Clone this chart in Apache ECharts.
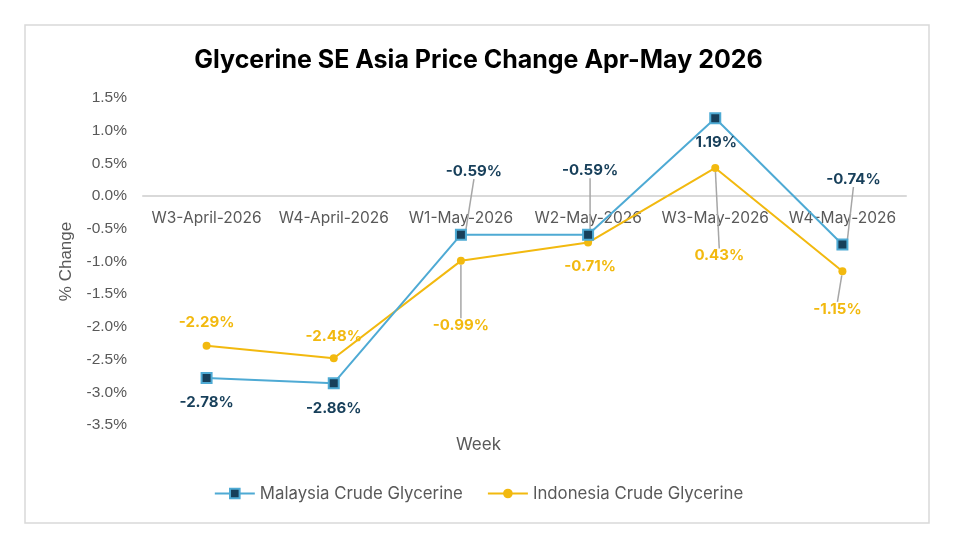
<!DOCTYPE html>
<html>
<head>
<meta charset="utf-8">
<script src="https://cdn.jsdelivr.net/npm/echarts@6/dist/echarts.min.js"></script>
<style>
  html, body { margin: 0; padding: 0; background: #fff; }
  #chart { width: 957px; height: 550px; }
</style>
</head>
<body>
<div id="chart"></div>
<script>
var weeks = ['W3-April-2026', 'W4-April-2026', 'W1-May-2026', 'W2-May-2026', 'W3-May-2026', 'W4-May-2026'];
var malaysia = [-2.78, -2.86, -0.59, -0.59, 1.19, -0.74];
var indonesia = [-2.29, -2.48, -0.99, -0.71, 0.43, -1.15];

// label nudges (px) relative to the point, and whether a leader line is drawn
var malaysiaShift = [[0, 25], [0, 25], [13, -63], [2, -64], [1, 24], [11, -65]];
var malaysiaLeader = [false, false, true, true, false, true];
var indonesiaShift = [[0, -23], [0, -22], [0, 65], [2, 24], [4, 88], [-5, 38]];
var indonesiaLeader = [false, false, true, false, true, true];

var chart = echarts.init(document.getElementById('chart'));
var fontMain = 'Inter, "Noto Sans", sans-serif';

function makeLayout(shift) {
	return function(params) {
		var s = shift[params.dataIndex];
		return { dx: s[0], dy: s[1] };
	};
}

function makeData(values, leader) {
	return values.map(function(v, i) {
		return { value: v, labelLine: { show: leader[i] } };
	});
}

var option = {
	backgroundColor: '#fff',
	animation: false,
	title: [
		{
			text: 'Glycerine SE Asia Price Change Apr-May 2026',
			left: 'center',
			top: 43,
			textStyle: { fontFamily: fontMain, fontSize: 25, fontWeight: 'bold', color: '#000' }
		},
		{
			text: 'Week',
			left: 'center',
			top: 431,
			textStyle: { fontFamily: fontMain, fontSize: 17, fontWeight: 'normal', color: '#595959' }
		}
	],
	graphic: [{
		type: 'rect',
		shape: { x: 25, y: 25, width: 904, height: 498 },
		style: { fill: 'none', stroke: '#d9d9d9', lineWidth: 1.5 },
		silent: true
	}],
	grid: { left: 143, right: 51, top: 98, height: 327, containLabel: false },
	legend: {
		bottom: 43,
		left: 'center',
		itemGap: 24,
		itemWidth: 40,
		itemHeight: 12,
		textStyle: { fontFamily: fontMain, fontSize: 16.8, color: '#595959' },
		data: ['Malaysia Crude Glycerine', 'Indonesia Crude Glycerine']
	},
	xAxis: {
		type: 'category',
		data: weeks,
		boundaryGap: true,
		offset: -229,
		axisLine: { onZero: false, lineStyle: { color: '#d9d9d9', width: 2 } },
		axisTick: { show: false },
		axisLabel: { fontFamily: fontMain, fontSize: 15.5, color: '#595959', margin: 14, interval: 0 }
	},
	yAxis: {
		type: 'value',
		min: -3.5,
		max: 1.5,
		interval: 0.5,
		name: '% Change',
		nameLocation: 'middle',
		nameGap: 68,
		nameTextStyle: { fontFamily: '"Liberation Sans", Arial, sans-serif', fontSize: 17, color: '#595959' },
		splitLine: { show: false },
		axisLine: { show: false },
		axisTick: { show: false },
		axisLabel: {
			fontFamily: '"Liberation Sans", Arial, sans-serif',
			fontSize: 15.5,
			color: '#595959',
			margin: 16,
			formatter: function(v) { return v.toFixed(1) + '%'; }
		}
	},
	series: [
		{
			name: 'Malaysia Crude Glycerine',
			type: 'line',
			data: makeData(malaysia, malaysiaLeader),
			symbol: 'rect',
			symbolSize: 10,
			lineStyle: { color: '#4eaad4', width: 2 },
			itemStyle: { color: '#173f5a', borderColor: '#4eaad4', borderWidth: 2 },
			label: {
				show: true,
				position: 'inside',
				fontFamily: fontMain,
				fontSize: 15,
				fontWeight: 'bold',
				color: '#173f5a',
				formatter: function(p) { return p.value.toFixed(2) + '%'; }
			},
			labelLayout: makeLayout(malaysiaShift),
			labelLine: { show: true, lineStyle: { color: '#a6a6a6', width: 1.5 } },
			z: 3
		},
		{
			name: 'Indonesia Crude Glycerine',
			type: 'line',
			data: makeData(indonesia, indonesiaLeader),
			symbol: 'circle',
			symbolSize: 8,
			lineStyle: { color: '#f2b90f', width: 2 },
			itemStyle: { color: '#f2b90f' },
			label: {
				show: true,
				position: 'inside',
				fontFamily: fontMain,
				fontSize: 15,
				fontWeight: 'bold',
				color: '#f2b90f',
				formatter: function(p) { return p.value.toFixed(2) + '%'; }
			},
			labelLayout: makeLayout(indonesiaShift),
			labelLine: { show: true, lineStyle: { color: '#a6a6a6', width: 1.5 } },
			z: 2
		}
	]
};

chart.setOption(option);
</script>
</body>
</html>
